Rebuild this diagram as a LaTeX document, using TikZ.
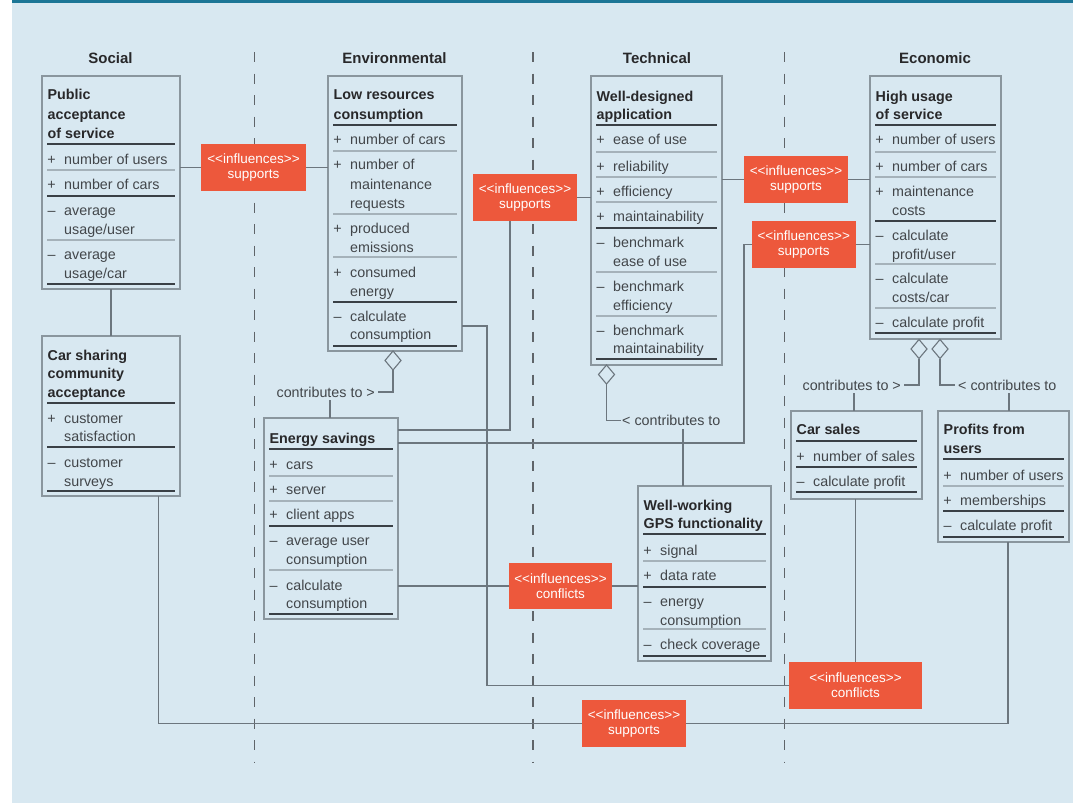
\documentclass[tikz,border=0pt]{standalone}
\usepackage{fontspec}
\setmainfont{Liberation Sans}
\usetikzlibrary{shapes.geometric}
\definecolor{bg}{RGB}{216,232,241}
\definecolor{topbar}{RGB}{28,118,150}
\definecolor{bord}{RGB}{138,150,158}
\definecolor{sepdark}{RGB}{58,64,70}
\definecolor{seplight}{RGB}{165,178,186}
\definecolor{txt}{RGB}{66,70,74}
\definecolor{ttxt}{RGB}{40,40,42}
\definecolor{conncol}{RGB}{108,118,126}
\definecolor{orng}{RGB}{237,88,60}
\definecolor{dashc}{RGB}{95,100,105}
\newcount\nn
\newcommand\Ti[3]{\global\advance\nn by 1\relax \node[ti] (n\the\nn) at (#1+5.5,#2+5) {#3};}
\newcommand\It[4]{\global\advance\nn by 1\relax \node[sg] (n\the\nn) at (#1+9.5,#2+5) {#3};\global\advance\nn by 1\relax \node[tx] (n\the\nn) at (#1+22,#2+5) {#4};}
\newcommand\Ic[3]{\global\advance\nn by 1\relax \node[tx] (n\the\nn) at (#1+22,#2+5) {#3};}
\newcommand\Sk[3]{\draw[sepk] (#1+5,#3) -- (#2-5,#3);}
\newcommand\St[3]{\draw[sept] (#1+5,#3) -- (#2-5,#3);}
\newcommand\UB[5]{\node[umlbox, minimum width={(#4-#2)*1pt}, minimum height={(#5-#3)*1pt}] (#1) at ({(#2+#4)/2},{(#3+#5)/2}) {};}
\newcommand\IB[6]{\node[infl, minimum width={(#4-#2)*1pt}, minimum height={(#5-#3)*1pt}] (#1) at ({(#2+#4)/2},{(#3+#5)/2}) {<{}<influences>{}>\\#6};}
\begin{document}
\begin{tikzpicture}[x=1pt,y=-1pt,
 umlbox/.style={draw=bord, line width=1.1pt, inner sep=0, outer sep=0},
 ti/.style={inner sep=0, anchor=base west, font=\fontsize{14.3}{16}\selectfont\bfseries, text=ttxt},
 tx/.style={inner sep=0, anchor=base west, font=\fontsize{14.3}{16}\selectfont, text=txt},
 sg/.style={inner sep=0, anchor=base, font=\fontsize{14.3}{16}\selectfont, text=txt},
 sepk/.style={draw=sepdark, line width=2.6pt},
 sept/.style={draw=seplight, line width=1.1pt},
 infl/.style={fill=orng, text=white, inner sep=0, outer sep=0, align=center, font=\fontsize{13.5}{15}\selectfont},
 cn/.style={draw=conncol, line width=1.2pt},
 dia/.style={diamond, draw=conncol, fill=bg, line width=1.1pt, minimum width=16pt, minimum height=19pt, inner sep=0, outer sep=0, anchor=north},
 hdr/.style={font=\fontsize{15}{18}\selectfont\bfseries, text=ttxt, inner sep=0},
 lbl/.style={font=\fontsize{14.3}{16}\selectfont, text=txt, inner sep=0},
 sepdash/.style={draw=dashc, line width=1.3pt, dash pattern=on 10pt off 11.5pt}]
\useasboundingbox (0,0) rectangle (1073,803);
\fill[white] (0,0) rectangle (1073,803);
\fill[bg] (12,0) rectangle (1073,803);
\fill[topbar] (12,0) rectangle (1073,3);
% headers
\node[hdr] (hS) at (110.5,58) {Social};
\node[hdr] (hEn) at (394.5,58) {Environmental};
\node[hdr] (hT) at (657,58) {Technical};
\node[hdr] (hEc) at (935,58) {Economic};
% separators
\foreach \xx in {254.5,533,784.5} \draw[sepdash] (\xx,52) -- (\xx,763);
% box frames
\UB{A}{42}{76}{180}{289}
\UB{B}{328}{76}{462}{351}
\UB{C}{264}{418}{398}{619}
\UB{D}{42}{336}{180}{496}
\UB{E}{591}{76}{722}{365}
\UB{F}{638}{486}{771}{661}
\UB{G}{870}{76}{1001}{339}
\UB{H}{791}{411}{922}{499}
\UB{I}{938}{411}{1069}{542}
% influence boxes
\IB{I1}{201}{144}{306}{191}{supports}
\IB{I2}{473}{174}{577}{221}{supports}
\IB{I3}{752}{221}{855.5}{268}{supports}
\IB{I4}{744}{156}{848}{203}{supports}
\IB{I5}{509}{563}{612}{609}{conflicts}
\IB{I6}{789}{662}{922}{709}{conflicts}
\IB{I7}{582}{700}{686}{747}{supports}
% connectors
\draw[cn] (A.south) -- (D.north);
\draw[cn] (A.east |- I1.west) -- (I1.west);
\draw[cn] (I1.east) -- (I1.east -| B.west);
\draw[cn] (I2.east) -- (I2.east -| E.west);
\draw[cn] (I2.south -| 510,0) -- (510,430) -- (C.east |- 0,430);
\draw[cn] (B.east |- 0,326) -- (487,326) -- (487,685.5) -- (I6.west);
\draw[cn] (I6.north) -- (I6.north |- H.south);
\draw[cn] (C.east |- 0,443) -- (744,443) -- (744,244.5) -- (I3.west);
\draw[cn] (I3.east) -- (I3.east -| G.west);
\draw[cn] (E.east |- I4.west) -- (I4.west);
\draw[cn] (I4.east) -- (I4.east -| G.west);
\draw[cn] (C.east |- I5.west) -- (I5.west);
\draw[cn] (I5.east) -- (I5.east -| F.west);
\draw[cn] (D.south -| 158.5,0) -- (158.5,723.5) -- (I7.west);
\draw[cn] (I7.east) -- (1008,723.5) -- (I.south -| 1008,0);
% aggregations
\node[dia] (dB) at (393,351) {};
\draw[cn] (dB.south) -- (393,392) -- (378,392);
\node[lbl, anchor=base east] (lB) at (375,397) {contributes to >};
\draw[cn] ([yshift=-3pt]lB.south -| 330,0) -- (C.north -| 330,0);
\node[dia] (dE) at (606.5,365) {};
\draw[cn] (dE.south) -- (606.5,420.5) -- (620.5,420.5);
\node[lbl, anchor=base west] (lE) at (622,425.5) {< contributes to};
\draw[cn] ([yshift=-3pt]lE.south -| 683,0) -- (F.north -| 683,0);
\node[dia] (dG1) at (919,339.5) {};
\node[dia] (dG2) at (940,339.5) {};
\draw[cn] (dG1.south) -- (919,385) -- (904,385);
\node[lbl, anchor=base east] (lG1) at (901,390) {contributes to >};
\draw[cn] ([yshift=-3pt]lG1.south -| 854,0) -- (H.north -| 854,0);
\draw[cn] (dG2.south) -- (940,385) -- (955,385);
\node[lbl, anchor=base west] (lG2) at (958,390) {< contributes to};
\draw[cn] ([yshift=-3pt]lG2.south -| 1009,0) -- (I.north -| 1009,0);
% Box A
\Ti{42}{94}{Public} \Ti{42}{114}{acceptance} \Ti{42}{133}{of service}
\Sk{42}{180}{144}
\It{42}{159}{+}{number of users}
\St{42}{180}{170}
\It{42}{184}{+}{number of cars}
\Sk{42}{180}{196}
\It{42}{210}{–}{average} \Ic{42}{229}{usage/user}
\St{42}{180}{240}
\It{42}{254}{–}{average} \Ic{42}{273}{usage/car}
\Sk{42}{180}{284}
% Box B
\Ti{328}{94}{Low resources} \Ti{328}{114}{consumption}
\Sk{328}{462}{125}
\It{328}{139}{+}{number of cars}
\St{328}{462}{151}
\It{328}{164}{+}{number of} \Ic{328}{184}{maintenance} \Ic{328}{203}{requests}
\St{328}{462}{214}
\It{328}{228}{+}{produced} \Ic{328}{247}{emissions}
\St{328}{462}{257}
\It{328}{272}{+}{consumed} \Ic{328}{291}{energy}
\Sk{328}{462}{302}
\It{328}{316}{–}{calculate} \Ic{328}{334}{consumption}
\Sk{328}{462}{346}
% Box C
\Ti{264}{438}{Energy savings}
\Sk{264}{398}{449}
\It{264}{464}{+}{cars}
\St{264}{398}{476}
\It{264}{489}{+}{server}
\St{264}{398}{501}
\It{264}{514}{+}{client apps}
\Sk{264}{398}{526}
\It{264}{540}{–}{average user} \Ic{264}{559}{consumption}
\St{264}{398}{570}
\It{264}{585}{–}{calculate} \Ic{264}{603}{consumption}
\Sk{264}{398}{614}
% Box D
\Ti{42}{355}{Car sharing} \Ti{42}{373}{community} \Ti{42}{392}{acceptance}
\Sk{42}{180}{403}
\It{42}{418}{+}{customer} \Ic{42}{436}{satisfaction}
\Sk{42}{180}{447}
\It{42}{462}{–}{customer} \Ic{42}{481}{surveys}
\Sk{42}{180}{491}
% Box E
\Ti{591}{96}{Well-designed} \Ti{591}{114}{application}
\Sk{591}{722}{125}
\It{591}{139}{+}{ease of use}
\St{591}{722}{152}
\It{591}{166}{+}{reliability}
\St{591}{722}{177}
\It{591}{191}{+}{efficiency}
\St{591}{722}{202}
\It{591}{216}{+}{maintainability}
\Sk{591}{722}{228}
\It{591}{242}{–}{benchmark} \Ic{591}{261}{ease of use}
\St{591}{722}{272}
\It{591}{286}{–}{benchmark} \Ic{591}{305}{efficiency}
\St{591}{722}{316}
\It{591}{330}{–}{benchmark} \Ic{591}{348}{maintainability}
\Sk{591}{722}{359}
% Box F
\Ti{638}{505}{Well-working} \Ti{638}{523}{GPS functionality}
\Sk{638}{771}{534}
\It{638}{550}{+}{signal}
\St{638}{771}{561}
\It{638}{575}{+}{data rate}
\Sk{638}{771}{587}
\It{638}{601}{–}{energy} \Ic{638}{620}{consumption}
\St{638}{771}{629}
\It{638}{644}{–}{check coverage}
\Sk{638}{771}{656}
% Box G
\Ti{870}{96}{High usage} \Ti{870}{114}{of service}
\Sk{870}{1001}{125}
\It{870}{139}{+}{number of users}
\St{870}{1001}{152}
\It{870}{166}{+}{number of cars}
\St{870}{1001}{177}
\It{870}{191}{+}{maintenance} \Ic{870}{210}{costs}
\Sk{870}{1001}{221}
\It{870}{235}{–}{calculate} \Ic{870}{254}{profit/user}
\St{870}{1001}{264}
\It{870}{278}{–}{calculate} \Ic{870}{297}{costs/car}
\St{870}{1001}{308}
\It{870}{322}{–}{calculate profit}
\Sk{870}{1001}{333}
% Box H
\Ti{791}{429}{Car sales}
\Sk{791}{922}{441}
\It{791}{456}{+}{number of sales}
\Sk{791}{922}{467}
\It{791}{481}{–}{calculate profit}
\Sk{791}{922}{492}
% Box I
\Ti{938}{429}{Profits from} \Ti{938}{448}{users}
\Sk{938}{1069}{459}
\It{938}{475}{+}{number of users}
\St{938}{1069}{486}
\It{938}{500}{+}{memberships}
\Sk{938}{1069}{511}
\It{938}{525}{–}{calculate profit}
\Sk{938}{1069}{537}
\end{tikzpicture}
\end{document}
